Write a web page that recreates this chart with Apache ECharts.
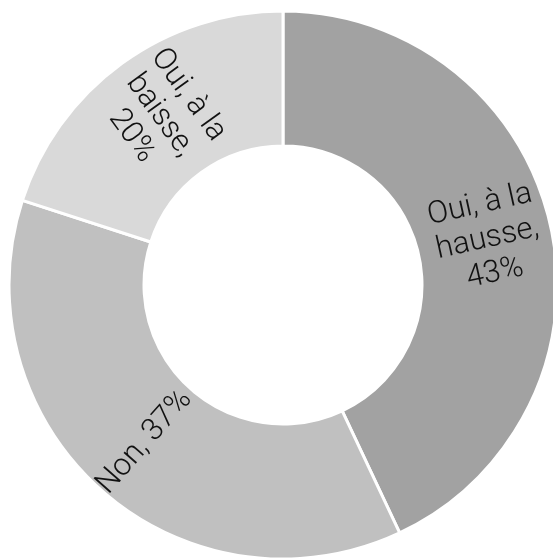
<!DOCTYPE html>
<html>
<head>
<meta charset="utf-8">
<script src="https://cdn.jsdelivr.net/npm/echarts@6/dist/echarts.min.js"></script>
<style>
html,body{margin:0;padding:0;background:#fff;}
#c{width:553px;height:559px;}
</style>
</head>
<body>
<div id="c"></div>
<script>
const categories = ["Oui, à la\nhausse,", "Non,", "Oui, à la\nbaisse,"];
const values = [43, 37, 20];
const colors = ["#a2a2a2", "#c0c0c0", "#d9d9d9"];

const chart = echarts.init(document.getElementById('c'), null, {renderer: 'canvas'});
chart.setOption({
  backgroundColor: '#ffffff',
  animation: false,
  series: [{
    type: 'pie',
    center: [283, 285],
    radius: [139, 274],
    startAngle: 90,
    clockwise: true,
    data: categories.map((c, i) => ({
      name: c, value: values[i],
      itemStyle: {color: colors[i]},
      label: {formatter: i === 1 ? c + ' ' + values[i] + '%' : c + '\n' + values[i] + '%'}
    })),
    itemStyle: {borderColor: '#ffffff', borderWidth: 3},
    label: {
      show: true,
      position: 'inside',
      rotate: 'radial',
      color: '#111111',
      fontFamily: 'Roboto',
      fontWeight: 300,
      fontSize: 31,
      lineHeight: 35
    },
    labelLine: {show: false},
    emphasis: {disabled: true}
  }]
});
</script>
</body>
</html>
